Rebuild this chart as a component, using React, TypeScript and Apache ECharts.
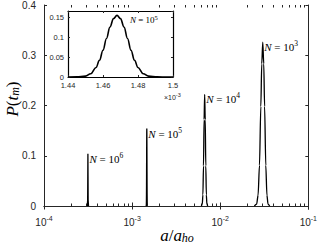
import React, { useEffect, useRef } from "react";
import * as echarts from "echarts";

// ---- data ----
const peakN6X = [3.10e-4, 3.13e-4, 3.14e-4, 3.15e-4, 3.16e-4, 3.17e-4, 3.20e-4];
const peakN6Y = [0, 0.012, 0.06, 0.104, 0.06, 0.012, 0];

// N = 10^5 peak, x in units of 1e-3 (as on the inset axis)
const peakN5X = [1.440, 1.445, 1.450, 1.453, 1.456, 1.458, 1.460, 1.462, 1.464, 1.466, 1.468,
  1.470, 1.472, 1.474, 1.476, 1.478, 1.480, 1.483, 1.486, 1.491, 1.500];
const peakN5Y = [0, 0.0002, 0.0023, 0.0082, 0.0237, 0.0419, 0.067, 0.0964, 0.125, 0.146, 0.154,
  0.146, 0.125, 0.0964, 0.067, 0.0419, 0.0237, 0.0082, 0.0023, 0.0002, 0];

const peakN4X = [0.00611, 0.00626, 0.00636, 0.00646, 0.00656, 0.00666, 0.00676, 0.00686, 0.00696, 0.00706, 0.00721];
const peakN4Y = [0, 0.0038, 0.0223, 0.08, 0.172, 0.222, 0.172, 0.08, 0.0223, 0.0038, 0];

const peakN3X = [0.0244, 0.0259, 0.0269, 0.0279, 0.0289, 0.0296, 0.0304, 0.0312, 0.0319, 0.0329, 0.0339, 0.0349, 0.0364];
const peakN3Y = [0, 0.0036, 0.0215, 0.081, 0.198, 0.283, 0.326, 0.283, 0.198, 0.081, 0.0215, 0.0036, 0];

const mainXMin = 1e-4;
const mainXMax = 1e-1;
const mainYMax = 0.4;
const mainYStep = 0.1;
const minorTicks = [2e-4, 3e-4, 4e-4, 5e-4, 6e-4, 7e-4, 8e-4, 9e-4,
  2e-3, 3e-3, 4e-3, 5e-3, 6e-3, 7e-3, 8e-3, 9e-3,
  2e-2, 3e-2, 4e-2, 5e-2, 6e-2, 7e-2, 8e-2, 9e-2];

const insetXMin = 1.44;
const insetXMax = 1.5;
const insetXStep = 0.02;
const insetYMax = 0.165;
const insetYStep = 0.05;
const insetScaleExp = -3;

const peakLabels = ["6", "5", "4", "3"];

const AX = "#262626";
const SANS = "Liberation Sans, Arial, sans-serif";
const SERIF = "Liberation Serif, Times New Roman, serif";

function zip(xs: number[], ys: number[], k = 1) {
  return xs.map((x, i) => [x * k, ys[i]]);
}

function peakIndex(ys: number[]) {
  let m = 0;
  ys.forEach((y, i) => { if (y > ys[m]) m = i; });
  return m;
}

const labelRich = {
  n: { fontFamily: SERIF, fontStyle: "italic", fontSize: 11, color: "#000", lineHeight: 13, verticalAlign: "bottom" },
  t: { fontFamily: SERIF, fontSize: 11, color: "#000", lineHeight: 13, verticalAlign: "bottom" },
  s: { fontFamily: SERIF, fontSize: 7.5, color: "#000", lineHeight: 8, verticalAlign: "top" },
};

function peakMark(xs: number[], ys: number[], exp: string, k = 1) {
  const i = peakIndex(ys);
  return {
    symbol: "circle",
    symbolSize: 1,
    silent: true,
    itemStyle: { color: "transparent" },
    label: {
      show: true,
      position: "right",
      distance: 1,
      offset: [0, 4],
      formatter: `{n|N}{t| = 10}{s|${exp}}`,
      rich: labelRich,
    },
    data: [{ coord: [xs[i] * k, ys[i]] }],
  };
}

const titleRich = {
  i: { fontFamily: SERIF, fontStyle: "italic", fontSize: 17, fill: "#000", lineHeight: 18, verticalAlign: "bottom" },
  r: { fontFamily: SERIF, fontSize: 17, fill: "#000", lineHeight: 18, verticalAlign: "bottom" },
  u: { fontFamily: SERIF, fontStyle: "italic", fontSize: 12, fill: "#000", lineHeight: 10, verticalAlign: "bottom" },
};

export default function App() {
  const ref = useRef<HTMLDivElement>(null);
  useEffect(() => {
    if (!ref.current) return;
    const chart = echarts.init(ref.current, undefined, { renderer: "svg" });
    const lineBase = {
      type: "line",
      showSymbol: false,
      smooth: 0.3,
      smoothMonotone: "x",
      lineStyle: { color: "#000", width: 1.3 },
      silent: true,
      z: 3,
    };
    const option: any = {
      animation: false,
      backgroundColor: "#fff",
      grid: [
        { left: 44, top: 5, right: 11, bottom: 41, containLabel: false },
        { left: 68, top: 11, width: 105, height: 66, show: true, backgroundColor: "#fff", borderWidth: 0, z: 5 },
      ],
      xAxis: [
        {
          type: "log", logBase: 10, min: mainXMin, max: mainXMax, gridIndex: 0, position: "bottom",
          axisLine: { show: true, lineStyle: { color: AX, width: 1 } },
          axisTick: { show: true, inside: true, length: 3.5, lineStyle: { color: AX } },
          splitLine: { show: false },
          axisLabel: {
            margin: 9,
            formatter: (v: number) => `{b|10}{s|${Math.round(Math.log10(v))}}`,
            rich: {
              b: { fontFamily: SANS, fontSize: 10, color: AX, lineHeight: 12, verticalAlign: "bottom" },
              s: { fontFamily: SANS, fontSize: 7, color: AX, lineHeight: 7, verticalAlign: "top" },
            },
          },
        },
        {
          type: "log", logBase: 10, min: mainXMin, max: mainXMax, gridIndex: 0, position: "top",
          axisLine: { show: true, lineStyle: { color: AX, width: 1 } },
          axisTick: { show: true, inside: true, length: 3.5, lineStyle: { color: AX } },
          axisLabel: { show: false },
          splitLine: { show: false },
        },
        {
          type: "value", min: insetXMin, max: insetXMax, interval: insetXStep, gridIndex: 1, position: "bottom",
          axisLine: { show: true, onZero: false, lineStyle: { color: "#000", width: 1.2 } },
          axisTick: { show: true, inside: true, length: 2, lineStyle: { color: AX } },
          splitLine: { show: false },
          axisLabel: { fontFamily: SANS, fontSize: 7.5, color: AX, margin: 4 },
          z: 6,
        },
        {
          type: "value", min: insetXMin, max: insetXMax, interval: insetXStep, gridIndex: 1, position: "top",
          axisLine: { show: true, onZero: false, lineStyle: { color: "#000", width: 1.2 } },
          axisTick: { show: true, inside: true, length: 2, lineStyle: { color: AX } },
          splitLine: { show: false },
          axisLabel: { show: false },
          z: 6,
        },
      ],
      yAxis: [
        {
          type: "value", min: 0, max: mainYMax, interval: mainYStep, gridIndex: 0, position: "left",
          axisLine: { show: true, lineStyle: { color: AX, width: 1 } },
          axisTick: { show: true, inside: true, length: 3, lineStyle: { color: AX } },
          splitLine: { show: false },
          axisLabel: { fontFamily: SANS, fontSize: 10, color: AX, margin: 8 },
        },
        {
          type: "value", min: 0, max: mainYMax, interval: mainYStep, gridIndex: 0, position: "right",
          axisLine: { show: true, lineStyle: { color: AX, width: 1 } },
          axisTick: { show: true, inside: true, length: 3, lineStyle: { color: AX } },
          splitLine: { show: false },
          axisLabel: { show: false },
        },
        {
          type: "value", min: 0, max: insetYMax, interval: insetYStep, gridIndex: 1, position: "left",
          axisLine: { show: true, onZero: false, lineStyle: { color: "#000", width: 1.2 } },
          axisTick: { show: true, inside: true, length: 2, lineStyle: { color: AX } },
          splitLine: { show: false },
          axisLabel: { fontFamily: SANS, fontSize: 7.5, color: AX, margin: 4, showMaxLabel: false },
          z: 6,
        },
        {
          type: "value", min: 0, max: insetYMax, interval: insetYStep, gridIndex: 1, position: "right",
          axisLine: { show: true, onZero: false, lineStyle: { color: "#000", width: 1.2 } },
          axisTick: { show: true, inside: true, length: 2, lineStyle: { color: AX } },
          splitLine: { show: false },
          axisLabel: { show: false },
          z: 6,
        },
      ],
      series: [
        {
          ...lineBase, name: "N6", xAxisIndex: 0, yAxisIndex: 0, smooth: false,
          data: zip(peakN6X, peakN6Y), markPoint: peakMark(peakN6X, peakN6Y, peakLabels[0]),
        },
        {
          ...lineBase, name: "N5", xAxisIndex: 0, yAxisIndex: 0, smooth: false,
          data: zip(peakN5X, peakN5Y, Math.pow(10, insetScaleExp)),
          markPoint: peakMark(peakN5X, peakN5Y, peakLabels[1], Math.pow(10, insetScaleExp)),
        },
        {
          ...lineBase, name: "N4", xAxisIndex: 0, yAxisIndex: 0,
          data: zip(peakN4X, peakN4Y), markPoint: peakMark(peakN4X, peakN4Y, peakLabels[2]),
        },
        {
          ...lineBase, name: "N3", xAxisIndex: 0, yAxisIndex: 0,
          data: zip(peakN3X, peakN3Y), markPoint: peakMark(peakN3X, peakN3Y, peakLabels[3]),
        },
        {
          type: "custom", name: "minorTicks", xAxisIndex: 0, yAxisIndex: 0, silent: true, clip: false, z: 2,
          data: minorTicks.map((v) => [v, 0]),
          renderItem: (params: any, api: any) => {
            const v = api.value(0);
            const x = Math.round(api.coord([v, 0])[0]) + 0.5;
            const cs = params.coordSys;
            const yb = cs.y + cs.height;
            const yt = cs.y;
            return {
              type: "group",
              children: [
                { type: "line", shape: { x1: x, y1: yb, x2: x, y2: yb - 2.5 }, style: { stroke: AX, lineWidth: 1 } },
                { type: "line", shape: { x1: x, y1: yt, x2: x, y2: yt + 2.5 }, style: { stroke: AX, lineWidth: 1 } },
              ],
            };
          },
        },
        {
          type: "line", name: "inset", xAxisIndex: 2, yAxisIndex: 2, showSymbol: false, smooth: 0.4,
          smoothMonotone: "x", silent: true, z: 7,
          lineStyle: { color: "#000", width: 1.6 },
          data: zip(peakN5X, peakN5Y),
        },
      ],
      graphic: [
        {
          type: "text", x: 130, y: 19, z: 100,
          style: {
            text: `{n|N}{t| = 10}{s|${peakLabels[1]}}`,
            verticalAlign: "middle",
            rich: {
              n: { fontFamily: SERIF, fontStyle: "italic", fontSize: 9, fill: "#000", lineHeight: 11, verticalAlign: "bottom" },
              t: { fontFamily: SERIF, fontSize: 9, fill: "#000", lineHeight: 11, verticalAlign: "bottom" },
              s: { fontFamily: SERIF, fontSize: 6.5, fill: "#000", lineHeight: 7, verticalAlign: "top" },
            },
          },
        },
        {
          type: "text", x: 164, y: 96, z: 100,
          style: {
            text: `{b|\u00d710}{s|${insetScaleExp}}`,
            verticalAlign: "middle",
            rich: {
              b: { fontFamily: SANS, fontSize: 7, fill: AX, lineHeight: 9, verticalAlign: "bottom" },
              s: { fontFamily: SANS, fontSize: 5.5, fill: AX, lineHeight: 6, verticalAlign: "top" },
            },
          },
        },
        {
          type: "text", x: 177, y: 235, z: 100,
          style: {
            text: "{i|a}{r|/}{i|a}{u|ho}",
            align: "center",
            verticalAlign: "middle",
            rich: titleRich,
          },
        },
        {
          type: "text", x: 12, y: 99, rotation: Math.PI / 2, z: 100,
          style: {
            text: "{i|P}{r|(}{i|t}{u|m}{r|)}",
            align: "center",
            verticalAlign: "middle",
            rich: titleRich,
          },
        },
      ],
    };
    chart.setOption(option);
    return () => chart.dispose();
  }, []);
  return <div ref={ref} style={{ width: 320, height: 247, position: "absolute", left: 0, top: 0 }} />;
}
